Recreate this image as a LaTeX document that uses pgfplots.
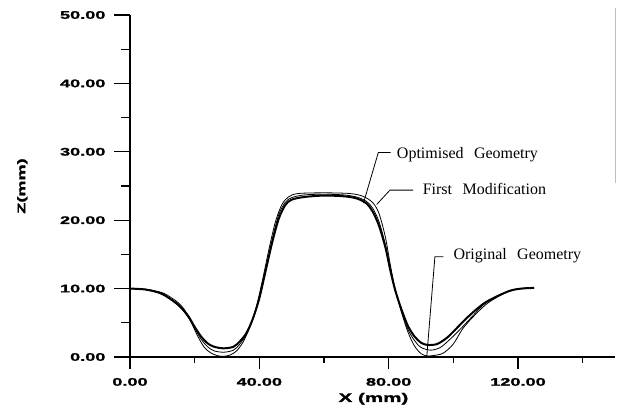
\documentclass[border=0pt]{standalone}
\usepackage{fontspec}
\setmainfont{Liberation Serif}
\newfontfamily\axfont{Liberation Sans}[FakeStretch=1.65, FakeBold=1.5]
\usepackage{pgfplots}
\pgfplotsset{compat=1.18}

\begin{document}
\begin{tikzpicture}
\useasboundingbox (-130pt,-52pt) rectangle (488pt,357pt);
\begin{axis}[
 scale only axis, width=485pt, height=342pt,
 xmin=0, xmax=150, ymin=0, ymax=50,
 axis x line=bottom, axis y line=left,
 axis line style={-, line width=1.2pt},
 xtick={0,40,80,120}, minor xtick={20,60,100,140},
 ytick={0,10,...,50}, minor ytick={5,15,...,45},
 tick align=outside, major tick length=16pt, minor tick length=8.5pt,
 tick style={line width=1.2pt, black},
 xtick style={/pgfplots/major tick length=12pt, /pgfplots/minor tick length=6pt},
 /pgf/number format/.cd, fixed, fixed zerofill, precision=2, assume math mode=true,
 /pgfplots/.cd,
 tick label style={font=\axfont\bfseries\fontsize{11}{12}\selectfont},
 yticklabel style={xshift=-5pt},
 xticklabel style={yshift=-1.5pt},
 xlabel={X (mm)}, ylabel={Z(mm)},
 xlabel style={at={(axis description cs:0.502,-0.122)}, anchor=center,
   font=\axfont\bfseries\fontsize{12.5}{14}\selectfont},
 ylabel style={at={(axis description cs:-0.222,0.5)}, anchor=center,
   font=\axfont\bfseries\fontsize{11}{12}\selectfont},
 clip=false,
]
% original geometry
\addplot[black, line width=0.8pt, smooth] coordinates {
 (0,10) (5,9.9) (10,9.4) (13,8.6) (15,7.9) (17,6.8) (19,5.0) (21,3.0) (23,1.4)
 (25,0.6) (27,0.2) (29,0.1) (31,0.3) (33,0.9) (35,2.2) (37,4.3) (39,7.2)
 (41,11.3) (43,15.8) (45,19.8) (47,22.3) (49,23.4) (52,23.9) (60,24.0)
 (68,23.9) (72,23.5) (75,22.6) (77,21.0) (79,17.5) (80.5,13.5) (82,10)
 (84,6.5) (86,3.6) (88,1.6) (90,0.5) (92,0.15) (95,0.3) (97,0.6) (100,1.9)
 (103,4.2) (107,6.3) (111,8.0) (117,9.6) (121,10.0) (125,10.1)};
% first modification
\addplot[black, line width=0.8pt, smooth] coordinates {
 (0,10) (5,9.85) (10,9.2) (15,7.5) (18,5.8) (20,4.2) (22,2.6) (24,1.5)
 (26,0.9) (29,0.7) (32,1.0) (34,1.9) (36,3.3) (38,5.5) (40,8.5) (42,12.8)
 (44,17.2) (46,20.8) (48,22.6) (50,23.3) (54,23.7) (60,23.8) (66,23.7)
 (70,23.4) (73,22.8) (75,21.8) (77,19.8) (79,16.4) (80.5,13) (82,9.8)
 (84,6.6) (86,4.0) (88,2.4) (90,1.4) (93,1.0) (96,1.4) (99,2.6) (102,4.0)
 (106,6.0) (110,7.9) (117,9.6) (121,10.0) (125,10.1)};
% optimised geometry
\addplot[black, line width=2pt, smooth] coordinates {
 (0,10) (5,9.85) (10,9.2) (15,7.6) (18,6.0) (20,4.4) (22,3.0) (24,2.0)
 (26,1.5) (29,1.27) (32,1.5) (34,2.3) (36,3.5) (38,5.6) (40,8.6) (42,12.7)
 (44,16.8) (46,20.2) (48,22.2) (50,23.0) (54,23.4) (60,23.6) (66,23.5)
 (70,23.2) (73,22.5) (75,21.3) (77,19.2) (79,16) (80.5,12.7) (82,9.8)
 (84,6.9) (86,4.5) (88,3.0) (90,2.1) (92,1.76) (95,1.9) (98,2.8) (100,3.7)
 (104.6,5.9) (110,8.0) (117,9.6) (121,10.0) (125,10.1)};
% annotations
\draw[line width=0.8pt] (axis cs:80.6,29.9) -- (axis cs:76.8,29.9) -- (axis cs:72.2,22.5);
\draw[line width=0.8pt] (axis cs:87.6,24.4) -- (axis cs:80.4,24.4) -- (axis cs:76.3,22.3);
\draw[line width=0.8pt] (axis cs:96.9,14.66) -- (axis cs:94.3,14.66) -- (axis cs:91.8,0.15);
\node[anchor=base west, inner sep=0, font=\fontsize{16}{18}\selectfont]
 at (axis cs:82.5,29.05) {Optimised\hspace{0.4em} Geometry};
\node[anchor=base west, inner sep=0, font=\fontsize{16}{18}\selectfont]
 at (axis cs:90.5,23.7) {First\hspace{0.4em} Modification};
\node[anchor=base west, inner sep=0, font=\fontsize{16}{18}\selectfont]
 at (axis cs:100,14.2) {Original\hspace{0.4em} Geometry};
\draw[gray!50, line width=0.6pt] (axis cs:150,25.5) -- (axis cs:150,51);
\end{axis}
\end{tikzpicture}
\end{document}
